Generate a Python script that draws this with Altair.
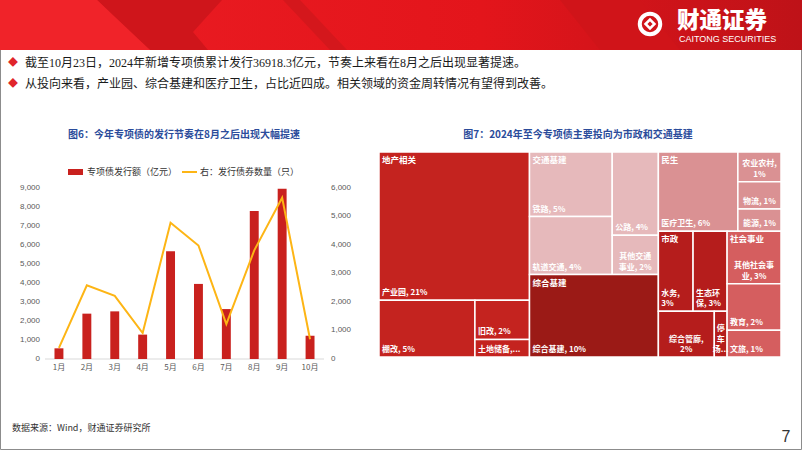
import altair as alt
import pandas as pd

# ---------------- data ----------------
MONTHS = ["1月", "2月", "3月", "4月", "5月", "6月", "7月", "8月", "9月", "10月"]
ISSUE_AMOUNT = [560, 2380, 2500, 1280, 5650, 3940, 2620, 7770, 8940, 1220]   # 亿元 (left axis)
ISSUE_COUNT = [390, 2580, 2210, 910, 4770, 3970, 1220, 3800, 5640, 690]      # 只 (right axis)
LEFT_TICKS = [0, 1000, 2000, 3000, 4000, 5000, 6000, 7000, 8000, 9000]
RIGHT_TICKS = [0, 1000, 2000, 3000, 4000, 5000, 6000]

BULLETS = [
    "截至10月23日，2024年新增专项债累计发行36918.3亿元，节奏上来看在8月之后出现显著提速。",
    "从投向来看，产业园、综合基建和医疗卫生，占比近四成。相关领域的资金周转情况有望得到改善。",
]
TITLE_LEFT = "图6：今年专项债的发行节奏在8月之后出现大幅提速"
TITLE_RIGHT = "图7：2024年至今专项债主要投向为市政和交通基建"
LEGEND_BAR = "专项债发行额（亿元）"
LEGEND_LINE = "右：发行债券数量（只）"
SOURCE = "数据来源：Wind，财通证券研究所"
PAGE = "7"
BRAND_CN = "财通证券"
BRAND_EN = "CAITONG SECURITIES"

TM_GROUPS = ["地产相关", "交通基建", "综合基建", "民生", "市政", "社会事业"]
TM_LEAVES = ["产业园", "棚改", "旧改", "土地储备", "铁路", "轨道交通", "公路", "其他交通事业",
             "综合基建", "医疗卫生", "农业农村", "物流", "能源", "水务", "生态环保", "综合管廊",
             "停车场", "其他社会事业", "教育", "文旅"]
TM_GROUP_OF = (["地产相关"] * 4 + ["交通基建"] * 4 + ["综合基建"] + ["民生"] * 4
               + ["市政"] * 4 + ["社会事业"] * 3)
TM_VALUES = [20.9, 5.1, 2.0, 0.9, 5.0, 4.5, 3.6, 1.7, 9.95, 5.9, 1.2, 1.1, 0.9,
             2.6, 2.55, 2.4, 0.55, 2.65, 2.35, 1.35]
TM_LABELS = ["产业园, 21%", "棚改, 5%", "旧改, 2%", "土地储备,...", "铁路, 5%", "轨道交通, 4%",
             "公路, 4%", "其他交通\n事业, 2%", "综合基建, 10%", "医疗卫生, 6%", "农业农村,\n1%",
             "物流, 1%", "能源, 1%", "水务,\n3%", "生态环\n保, 3%", "综合管廊,\n2%", "停\n车\n场...",
             "其他社会事\n业, 3%", "教育, 2%", "文旅, 1%"]

# ---------------- styles ----------------
FONT = "Noto Sans CJK SC"
NUMFONT = "Liberation Sans"
RED = "#C9211E"
YELLOW = "#FDB515"
TITLE_BLUE = "#2B4C9B"
GROUP_COLORS = ["#C4231F", "#E6B9BB", "#9B1A16", "#DA9193", "#B51D1C", "#D55E5F"]
CENTERED = {"其他交通事业", "农业农村", "物流", "能源", "综合管廊", "停车场", "其他社会事业"}
LINE_H = 10.5

# treemap arrangement (slice / dice tree as in the original figure)
TREE = ("h", None, [
    ("v", "地产相关", ["产业园", ("h", None, ["棚改", ("v", None, ["旧改", "土地储备"])])]),
    ("v", None, [
        ("h", "交通基建", [("v", None, ["铁路", "轨道交通"]), ("v", None, ["公路", "其他交通事业"])]),
        ("v", "综合基建", ["综合基建"]),
    ]),
    ("v", None, [
        ("h", "民生", ["医疗卫生", ("v", None, ["农业农村", "物流", "能源"])]),
        ("h", None, [
            ("v", "市政", [("h", None, ["水务", "生态环保"]), ("h", None, ["综合管廊", "停车场"])]),
            ("v", "社会事业", ["其他社会事业", "教育", "文旅"]),
        ]),
    ]),
])
VAL = dict(zip(TM_LEAVES, TM_VALUES))


def tsum(n):
    return VAL[n] if isinstance(n, str) else sum(tsum(k) for k in n[2])


def layout(n, x0, y0, x1, y1, leaves, groups):
    if isinstance(n, str):
        leaves[n] = (x0, y0, x1, y1)
        return
    orient, gname, kids = n
    if gname:
        groups[gname] = (x0, y0, x1, y1)
    tot = tsum(n)
    pos = x0 if orient == "h" else y0
    for k in kids:
        f = tsum(k) / tot
        if orient == "h":
            w = (x1 - x0) * f
            layout(k, pos, y0, pos + w, y1, leaves, groups)
        else:
            w = (y1 - y0) * f
            layout(k, x0, pos, x1, pos + w, leaves, groups)
        pos += w


leaf_pos, group_pos = {}, {}
layout(TREE, 0.0, 0.0, 1.0, 1.0, leaf_pos, group_pos)

tm_df = pd.DataFrame({
    "leaf": TM_LEAVES,
    "group": TM_GROUP_OF,
    "x0": [leaf_pos[n][0] for n in TM_LEAVES],
    "y0": [leaf_pos[n][1] for n in TM_LEAVES],
    "x1": [leaf_pos[n][2] for n in TM_LEAVES],
    "y1": [leaf_pos[n][3] for n in TM_LEAVES],
})

# one row per label line (k = line index counted from the bottom)
rows = []
for leaf, lab in zip(TM_LEAVES, TM_LABELS):
    x0, y0, x1, y1 = leaf_pos[leaf]
    parts = lab.split("\n")
    for i, p in enumerate(parts):
        rows.append({"line": p, "k": len(parts) - 1 - i, "c": leaf in CENTERED,
                     "x0": x0, "xc": (x0 + x1) / 2, "y1": y1})
lab_df = pd.DataFrame(rows)

grp_df = pd.DataFrame({
    "group": TM_GROUPS,
    "gx": [group_pos[g][0] for g in TM_GROUPS],
    "gy": [group_pos[g][1] for g in TM_GROUPS],
})

chart_df = pd.DataFrame({"month": MONTHS, "amount": ISSUE_AMOUNT, "count": ISSUE_COUNT})

# ---------------- scales ----------------
X_BAND = alt.Scale(domain=MONTHS, range=[45, 324], paddingInner=0.68, paddingOuter=0.34)
X_POINT = alt.Scale(type="point", domain=MONTHS, range=[58.95, 310.05], padding=0)
Y_LEFT = alt.Scale(domain=[0, 9000], range=[359, 187.5], nice=False, zero=True)
Y_RIGHT = alt.Scale(domain=[0, 6000], range=[359, 187.5], nice=False, zero=True)
TMX = alt.Scale(domain=[0, 1], range=[379, 781], nice=False, zero=False)
TMY = alt.Scale(domain=[0, 1], range=[152, 357], nice=False, zero=False)

ONE = pd.DataFrame({"k": [0]})


def txt(text, x, y, size, color, weight="normal", align="left", font=FONT, baseline="middle"):
    return alt.Chart(pd.DataFrame({"t": [text]})).mark_text(
        font=font, fontSize=size, color=color, fontWeight=weight, align=align, baseline=baseline
    ).encode(x=alt.value(x), y=alt.value(y), text="t:N")


layers = []

# slide frame
layers.append(alt.Chart(ONE).mark_rect(fill="white", stroke="#8C8C8C", strokeWidth=1).encode(
    x=alt.value(0.5), x2=alt.value(801.5), y=alt.value(0.5), y2=alt.value(449.5)))

# header banner
layers.append(alt.Chart(ONE).mark_rect(color=alt.Gradient(
    gradient="linear", x1=0, x2=1, y1=0, y2=0,
    stops=[alt.GradientStop(offset=0, color="#EC1D24"),
           alt.GradientStop(offset=0.6, color="#E3151B"),
           alt.GradientStop(offset=1, color="#BE1218")])).encode(
    x=alt.value(0), x2=alt.value(802), y=alt.value(0), y2=alt.value(50)))

BANNER_SHAPES = [
    ("#CF151B", [(0, 97, 222), (32, 130, 193), (50, 150, 208)]),
    ("#F02329", [(0, 0, 97), (50, 0, 150)]),
    ("#D4171C", [(0, 283, 300), (50, 330, 347)]),
    ("#D01419", [(0, 560, 640), (50, 600, 680)]),
]
for col, pts in BANNER_SHAPES:
    sdf = pd.DataFrame(pts, columns=["yy", "xa", "xb"])
    layers.append(alt.Chart(sdf).mark_area(orient="horizontal", color=col).encode(
        y=alt.Y("yy:Q", scale=None), x=alt.X("xa:Q", scale=None), x2="xb:Q"))

# logo
layers.append(alt.Chart(ONE).mark_point(shape="circle", filled=False, color="white",
                                        strokeWidth=4, size=420, opacity=1).encode(
    x=alt.value(650), y=alt.value(24)))
layers.append(alt.Chart(ONE).mark_point(shape="diamond", filled=False, color="white",
                                        strokeWidth=2.5, size=80, opacity=1).encode(
    x=alt.value(650), y=alt.value(24)))
layers.append(txt(BRAND_CN, 677, 21, 22.5, "white", weight=900))
layers.append(txt(BRAND_EN, 679, 39, 9, "white", font=NUMFONT))

# bullets
for i, b in enumerate(BULLETS):
    yy = 63 + i * 21
    layers.append(txt("◆", 13, yy, 10, "#E0262B", align="center"))
    layers.append(txt(b, 25, yy, 12, "#1A1A1A",
                      font="Liberation Serif, " + FONT if i == 0 else FONT))

# titles
layers.append(txt(TITLE_LEFT, 184, 135, 10, TITLE_BLUE, weight="bold", align="center"))
layers.append(txt(TITLE_RIGHT, 578, 135, 10, TITLE_BLUE, weight="bold", align="center"))

# legend
layers.append(alt.Chart(ONE).mark_rect(color=RED).encode(
    x=alt.value(68), x2=alt.value(83), y=alt.value(169), y2=alt.value(175)))
layers.append(txt(LEGEND_BAR, 87, 172, 9, "#333333"))
layers.append(alt.Chart(ONE).mark_rule(color=YELLOW, strokeWidth=2).encode(
    x=alt.value(182), x2=alt.value(197), y=alt.value(172)))
layers.append(txt(LEGEND_LINE, 200, 172, 9, "#333333"))

# axis baseline
layers.append(alt.Chart(ONE).mark_rule(color="#D9D9D9", strokeWidth=1).encode(
    x=alt.value(45), x2=alt.value(324), y=alt.value(359)))

# left & right tick labels
layers.append(alt.Chart(pd.DataFrame({"v": LEFT_TICKS})).mark_text(
    font=NUMFONT, fontSize=8, color="#595959", align="right", baseline="middle").encode(
    x=alt.value(40), y=alt.Y("v:Q", scale=Y_LEFT, axis=None), text=alt.Text("v:Q", format=",")))
layers.append(alt.Chart(pd.DataFrame({"v": RIGHT_TICKS})).mark_text(
    font=NUMFONT, fontSize=8, color="#595959", align="left", baseline="middle").encode(
    x=alt.value(331), y=alt.Y("v:Q", scale=Y_RIGHT, axis=None), text=alt.Text("v:Q", format=",")))

# bars
layers.append(alt.Chart(chart_df).mark_bar(color=RED).encode(
    x=alt.X("month:N", scale=X_BAND, axis=None, sort=MONTHS),
    y=alt.Y("amount:Q", scale=Y_LEFT, axis=None)))
# line
layers.append(alt.Chart(chart_df).mark_line(color=YELLOW, strokeWidth=2).encode(
    x=alt.X("month:N", scale=X_POINT, axis=None, sort=MONTHS),
    y=alt.Y("count:Q", scale=Y_RIGHT, axis=None)))
# month labels
layers.append(alt.Chart(chart_df).mark_text(
    font=FONT, fontSize=8, color="#595959", align="center", baseline="middle").encode(
    x=alt.X("month:N", scale=X_POINT, axis=None, sort=MONTHS), y=alt.value(368), text="month:N"))

# treemap cells
layers.append(alt.Chart(tm_df).mark_rect(stroke="white", strokeWidth=1.5).encode(
    x=alt.X("x0:Q", scale=TMX, axis=None), x2="x1:Q",
    y=alt.Y("y0:Q", scale=TMY, axis=None), y2="y1:Q",
    color=alt.Color("group:N", scale=alt.Scale(domain=TM_GROUPS, range=GROUP_COLORS), legend=None)))

# treemap leaf labels, one layer per (alignment, line-from-bottom)
for centered in (False, True):
    for k in range(3):
        layers.append(alt.Chart(lab_df).transform_filter(
            f"datum.k == {k} && datum.c == {'true' if centered else 'false'}"
        ).mark_text(
            font=FONT, fontSize=8, fontWeight="bold", color="white",
            align="center" if centered else "left", baseline="bottom",
            dx=0 if centered else 3, dy=-3 - k * LINE_H).encode(
            x=alt.X("xc:Q" if centered else "x0:Q", scale=TMX, axis=None),
            y=alt.Y("y1:Q", scale=TMY, axis=None), text="line:N"))

# treemap group labels
layers.append(alt.Chart(grp_df).mark_text(
    font=FONT, fontSize=8.5, fontWeight="bold", color="white", align="left", baseline="top",
    dx=3, dy=4).encode(
    x=alt.X("gx:Q", scale=TMX, axis=None), y=alt.Y("gy:Q", scale=TMY, axis=None), text="group:N"))

# footer
layers.append(txt(SOURCE, 12, 428, 9, "#333333"))
layers.append(txt(PAGE, 786, 437, 16, "#333333", align="center", font=NUMFONT))

chart = alt.layer(*layers).resolve_scale(
    x="independent", y="independent", color="independent"
).properties(
    width=802, height=451, padding=0, autosize="none", background="white"
).configure_view(stroke=None)

chart.save("out.html", embed_options={"renderer": "svg", "actions": False})
